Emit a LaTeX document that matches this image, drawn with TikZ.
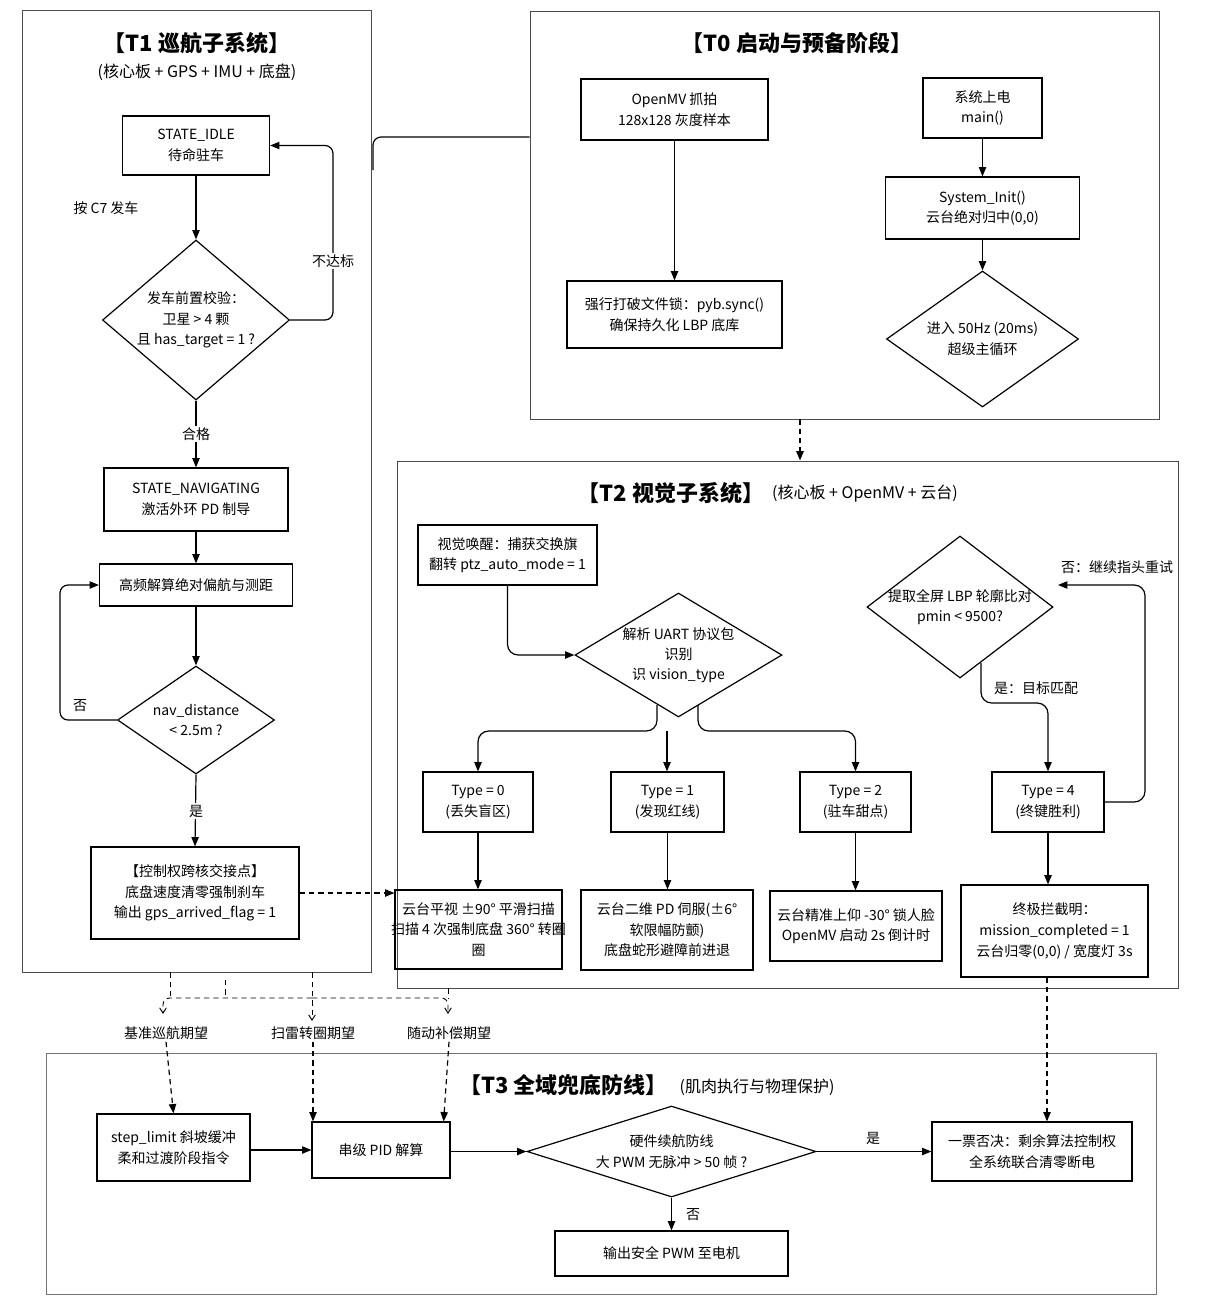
\documentclass[tikz,border=0pt]{standalone}
\usepackage{fontspec}
\setmainfont{Noto Sans CJK SC}
\usetikzlibrary{arrows.meta,shapes.geometric,calc}
\begin{document}
\begin{tikzpicture}[x=0.75pt,y=-0.75pt,
  every node/.style={font=\fontsize{10.5}{15.5}\selectfont},
  box/.style={draw, line width=0.9pt, align=center, inner sep=2pt},
  sz/.style 2 args={minimum width=#1*0.75pt, minimum height=#2*0.75pt},
  dia/.style={draw, diamond, line width=0.9pt, inner sep=0pt},
  frame/.style={draw=black!70, line width=0.7pt, inner sep=0pt},
  arr/.style={line width=0.9pt, -{Triangle[length=7pt,width=5.5pt]}},
  darr/.style={arr, dash pattern=on 4pt off 3pt},
  dl/.style={line width=0.7pt, dash pattern=on 4pt off 3pt},
  oarr/.style={dl, -{Straight Barb[length=4pt,width=5pt]}},
  lbl/.style={fill=white, inner sep=1.5pt},
  ttl/.style={font=\fontsize{16.5}{18}\selectfont\bfseries},
  sub/.style={font=\fontsize{12}{14}\selectfont},
  dtext/.style={align=center, font=\fontsize{10.5}{15.5}\selectfont}
]
\fill[white] (0,0) rectangle (1206,1304);
\useasboundingbox (0,0) rectangle (1206,1304);

% ---------------- frames ----------------
\node[frame, sz={349}{962}] (T1) at (196.5,491) {};
\node[frame, sz={629}{408}] (T0) at (844.5,215) {};
\node[frame, sz={781}{527}] (T2) at (787.5,724.5) {};
\node[frame, draw=black!55, sz={1110}{241}] (T3) at (601,1173.5) {};

% ---------------- T1 ----------------
\node[ttl] (t1t) at (197,43) {【T1 巡航子系统】};
\node[sub] (t1s) at (197,72) {(核心板 + GPS + IMU + 底盘)};
\node[box, sz={147}{59}] (idle) at (196,145.5) {STATE\_IDLE\\待命驻车};
\node (c7) at (106,208) {按 C7 发车};
\node[dia, sz={187}{160}, label={[dtext]center:{发车前置校验：\\卫星 > 4 颗\\且 has\_target = 1 ?}}] (d1) at (196,320) {};
\node[box, sz={184}{63}] (nav) at (196,499.5) {STATE\_NAVIGATING\\激活外环 PD 制导};
\node[box, sz={193}{42}] (calc) at (196,585) {高频解算绝对偏航与测距};
\node[dia, sz={157}{108}, label={[dtext]center:{nav\_distance\\< 2.5m ?}}] (d2) at (196,720) {};
\node[box, sz={208}{92}] (hand) at (195,893) {【控制权跨核交接点】\\底盘速度清零强制刹车\\输出 gps\_arrived\_flag = 1};

\draw[arr] (idle.south) -- (d1.north);
\coordinate (r1) at (333,320);
\draw[arr, rounded corners=6pt] (d1.east) -- (r1) |- (idle.east);
\node[lbl] (nd1) at (333,261) {不达标};
\draw[arr] (d1.south) -- (nav.north);
\node[lbl] (ok1) at (196,434) {合格};
\draw[arr] (nav.south) -- (calc.north);
\draw[arr] (calc.south) -- (d2.north);
\coordinate (l2) at (60,720);
\draw[arr, rounded corners=6pt] (d2.west) -- (l2) |- (calc.west);
\node (no2) at (80,706) {否};
\draw[arr] (d2.south) -- (hand.north);
\node[lbl] (yes2) at (196,811) {是};

% ---------------- T0 ----------------
\node[ttl] (t0t) at (797,43) {【T0 启动与预备阶段】};
\node[box, sz={187}{61}] (omv) at (674.5,109.5) {OpenMV 抓拍\\128x128 灰度样本};
\node[box, sz={215}{67}] (lock) at (674.5,314.5) {强行打破文件锁：pyb.sync()\\确保持久化 LBP 底库};
\node[box, sz={119}{60}] (pwr) at (982.5,108) {系统上电\\main()};
\node[box, sz={194}{62}] (init) at (982.5,208) {System\_Init()\\云台绝对归中(0,0)};
\node[dia, sz={192}{136}, label={[dtext]center:{进入 50Hz (20ms)\\超级主循环}}] (d0) at (982.5,339) {};
\draw[arr] (omv.south) -- (lock.north);
\draw[arr] (pwr.south) -- (init.north);
\draw[arr] (init.south) -- (d0.north);

% T0 -> T1 link
\coordinate (c0) at (0,137);
\coordinate (c0d) at (373,170);
\draw[line width=0.9pt, rounded corners=6pt] (T0.west |- c0) -- (c0d |- c0) -- (c0d);
% T0 -> T2 dashed
\coordinate (x800) at (800,0);
\draw[darr] (T0.south -| x800) -- (T2.north -| x800);

% ---------------- T2 ----------------
\node[ttl] (t2t) at (671,493) {【T2 视觉子系统】};
\node[sub] (t2s) at (865,494) {(核心板 + OpenMV + 云台)};
\node[box, sz={179}{60}] (wake) at (507.5,555) {视觉唤醒：捕获交换旗\\翻转 ptz\_auto\_mode = 1};
\node[dia, sz={207}{124}, label={[dtext, font=\fontsize{10.5}{15}\selectfont]center:{解析 UART 协议包\\识别\\识 vision\_type}}] (uart) at (678.5,655) {};
\draw[arr, rounded corners=8pt] (wake.south) |- (uart.west);

\node[box, sz={110}{60}] (ty0) at (478,802) {Type = 0\\(丢失盲区)};
\node[box, sz={113}{60}] (ty1) at (667.5,802) {Type = 1\\(发现红线)};
\node[box, sz={111}{60}] (ty2) at (855.5,802) {Type = 2\\(驻车甜点)};
\node[box, sz={112}{60}] (ty4) at (1048,802) {Type = 4\\(终键胜利)};

\coordinate (bl) at (657,705);
\coordinate (br) at (698,705);
\coordinate (hy) at (0,731);
\coordinate (bm) at (667,731);
\draw[arr, rounded corners=8pt] (bl) -- (bl |- hy) -| (ty0.north);
\draw[arr, rounded corners=8pt] (br) -- (br |- hy) -| (ty2.north);
\draw[arr] (bm) -- (bm |- ty1.north);

\node[box, sz={167}{79}, label={[dtext]center:{云台平视 ±90° 平滑扫描\\扫描 4 次强制底盘 360° 转圈\\圈}}] (pan) at (478.5,929.5) {};
\node[box, sz={172}{80}] (pd) at (667,930) {云台二维 PD 伺服(±6°\\软限幅防颤)\\底盘蛇形避障前进退};
\node[box, sz={172}{70}] (face) at (856,926) {云台精准上仰 -30° 锁人脸\\OpenMV 启动 2s 倒计时};
\node[box, sz={187}{92}] (win) at (1054.5,931) {终极拦截明：\\mission\_completed = 1\\云台归零(0,0) / 宽度灯 3s};

\draw[arr] (ty0.south) -- (ty0.south |- pan.north);
\draw[arr] (ty1.south) -- (ty1.south |- pd.north);
\draw[arr] (ty2.south) -- (ty2.south |- face.north);
\draw[arr] (ty4.south) -- (ty4.south |- win.north);

\node[dia, sz={186}{142}, label={[dtext]center:{提取全屏 LBP 轮廓比对\\pmin < 9500?}}] (lbp) at (960,607) {};
\coordinate (ly) at (981,663);
\coordinate (lyy) at (0,703);
\draw[arr, rounded corners=8pt] (ly) -- (ly |- lyy) -| (ty4.north);
\node (yes4) at (1036,688) {是：目标匹配};
\coordinate (rx) at (1145,585);
\coordinate (lt) at (1058,585);
\draw[arr, rounded corners=8pt] (ty4.east) -| (rx) -- (lt);
\node (no4) at (1117,567) {否：继续指头重试};

% T1 -> T2 dashed
\draw[darr] (hand.east) -- (hand.east -| pan.west);

% ---------------- T3 ----------------
\node[ttl] (t3t) at (563.5,1085) {【T3 全域兜底防线】};
\node[sub] (t3s) at (757,1087) {(肌肉执行与物理保护)};
\node[box, sz={153}{67}] (stp) at (173.5,1147.5) {step\_limit 斜坡缓冲\\柔和过渡阶段指令};
\node[box, sz={138}{56}] (pid) at (381,1150) {串级 PID 解算};
\node[dia, sz={289}{91}, label={[dtext]center:{硬件续航防线\\大 PWM 无脉冲 > 50 帧 ?}}] (hw) at (671.5,1151.5) {};
\node[box, sz={200}{59}] (alert) at (1032,1151.5) {一票否决：剩余算法控制权\\全系统联合清零断电};
\node[box, sz={233}{45}] (out) at (671.5,1253.5) {输出安全 PWM 至电机};

\draw[arr] (stp.east |- pid.west) -- (pid.west);
\draw[arr] (pid.east |- hw.west) -- (hw.west);
\draw[arr] (hw.east) -- (alert.west);
\node (yes3) at (873,1138) {是};
\draw[arr] (hw.south) -- (out.north);
\node (no3) at (693,1215) {否};

% T2 -> T3 dashed
\coordinate (wx) at (1047,0);
\draw[darr] (win.south -| wx) -- (alert.north -| wx);

% T1/T2 -> T3 dashed links
\coordinate (jy) at (0,998);
\coordinate (x170) at (170,0);
\coordinate (x225) at (225,980);
\coordinate (x312) at (312,0);
\coordinate (x448) at (448,0);
\coordinate (ea) at (163,1014);
\coordinate (eb) at (448,1014);
\draw[dl] (T1.south -| x170) -- (x170 |- jy);
\draw[dl] (x225) -- (x225 |- jy);
\draw[dl] (T2.south -| x448) -- (x448 |- jy);
\draw[oarr, rounded corners=5pt] (x312 |- jy) -| (ea);
\draw[oarr, rounded corners=5pt] (x312 |- jy) -| (eb);
\draw[oarr] (T1.south -| x312) -- (312,1021);

\node[lbl] (lab1) at (166,1033) {基准巡航期望};
\node[lbl] (lab2) at (313,1033) {扫雷转圈期望};
\node[lbl] (lab3) at (449,1033) {随动补偿期望};
\draw[darr] (lab1.south) -- (stp.north);
\draw[darr] (lab2.south) -- (lab2.south |- pid.north);
\draw[darr] (lab3.south) -- ($(pid.north east)+(-7,0)$);

\end{tikzpicture}
\end{document}
